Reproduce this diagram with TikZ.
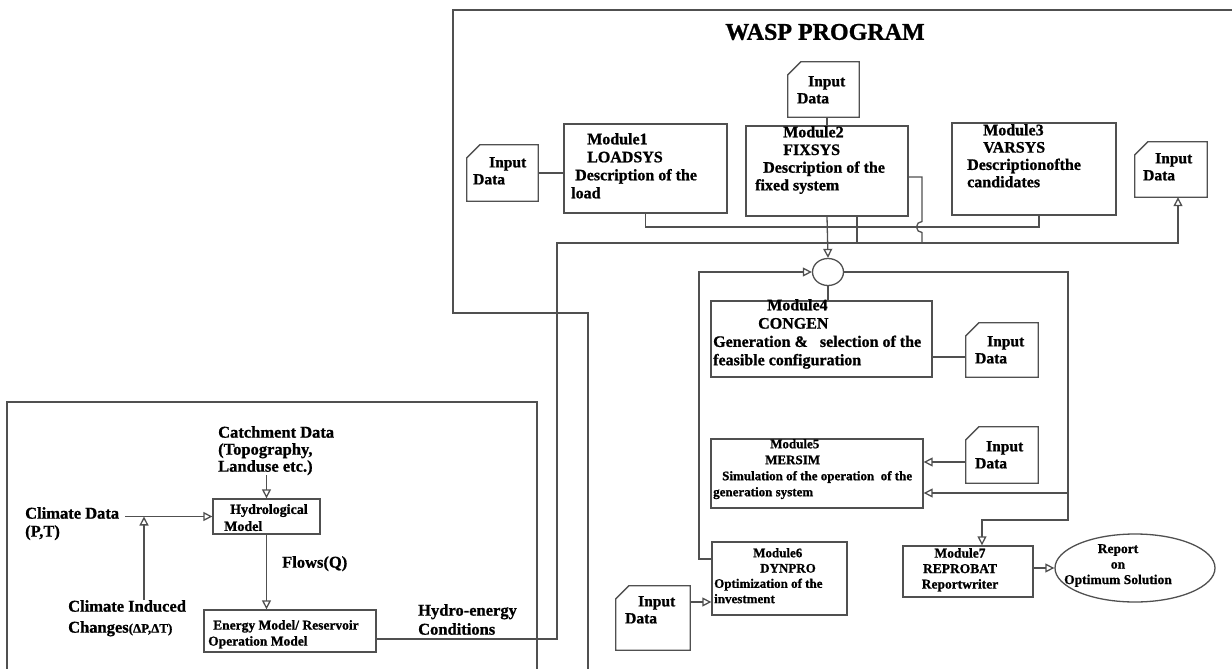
\documentclass[tikz,border=0pt]{standalone}
\usepackage{fontspec}
\setmainfont{Liberation Serif}[BoldFeatures={FakeBold=1}]
\usetikzlibrary{arrows.meta,shapes.geometric}
\definecolor{lc}{HTML}{505050}
\newcommand\docout[1]{\draw[ln] (#1.south west) -- ([yshift=-13pt]#1.north west) -- ([xshift=13pt]#1.north west) -- (#1.north east) -- (#1.south east) -- cycle;}
\begin{document}
\begin{tikzpicture}[x=1pt,y=-1pt,
  ln/.style={draw=lc, line width=1.3pt},
  arr/.style={ln, -{Triangle[open,length=9pt,width=9pt]}},
  box/.style={draw=lc, line width=1.3pt, rectangle, inner sep=0pt},
  docn/.style={rectangle, inner sep=0pt},
  txt/.style={inner sep=0pt, anchor=north west, align=left, text=black},
  fA/.style={font=\fontsize{16}{18}\selectfont\bfseries},
  fIn/.style={font=\fontsize{15.5}{17}\selectfont\bfseries},
  fS/.style={font=\fontsize{13}{16}\selectfont\bfseries},
  fL/.style={font=\fontsize{16.5}{18}\selectfont\bfseries}]
\useasboundingbox (0,0) rectangle (1232,669);
% frames
\draw[ln] (1232,10) -- (453,10) -- (453,313) -- (588,313) -- (588,669);
\draw[ln] (7,669) -- (7,402) -- (537,402) -- (537,669);
\node[font=\fontsize{24}{26}\selectfont\bfseries] (title) at (825,32) {WASP PROGRAM};
% modules
\node[box, minimum width=163pt, minimum height=89pt] (m1) at (645.5,168.5) {};
\node[box, minimum width=162pt, minimum height=90pt] (m2) at (827,171) {};
\node[box, minimum width=164pt, minimum height=92pt] (m3) at (1034,169) {};
\node[box, minimum width=221pt, minimum height=76pt] (m4) at (821.5,339) {};
\node[box, minimum width=212pt, minimum height=69pt] (m5) at (817,473.5) {};
\node[box, minimum width=135pt, minimum height=73pt] (m6) at (779.5,578.5) {};
\node[box, minimum width=130pt, minimum height=51pt] (m7) at (968,571.5) {};
\node[draw=lc, line width=1.3pt, ellipse, inner sep=0pt, minimum width=160pt, minimum height=68pt] (rep) at (1135,568) {};
\node[draw=lc, line width=1.3pt, ellipse, inner sep=0pt, minimum width=31pt, minimum height=27pt] (circ) at (828,272) {};
% module texts
\node[txt, fA] (m1t) at (571,133) {\hspace*{16pt}Module1\\\hspace*{16pt}LOADSYS\\\hspace*{4pt}Description of the\\load};
\node[txt, font=\fontsize{16}{17.7}\selectfont\bfseries] (m2t) at (755,126) {\hspace*{28pt}Module2\\\hspace*{28pt}FIXSYS\\\hspace*{8pt}Description of the\\fixed system};
\node[txt, font=\fontsize{16}{17.3}\selectfont\bfseries] (m3t) at (967,124) {\hspace*{16pt}Module3\\\hspace*{16pt}VARSYS\\Descriptionofthe\\candidates};
\node[txt, font=\fontsize{16}{18.3}\selectfont\bfseries] (m4t) at (713,299) {\hspace*{54pt}Module4\\\hspace*{45pt}CONGEN\\Generation \&\ \ \ selection of the\\feasible configuration};
\node[txt, fS] (m5t) at (713,439) {\hspace*{57pt}Module5\\\hspace*{52pt}MERSIM\\\hspace*{9pt}Simulation of the operation\ \ of the\\generation system};
\node[txt, font=\fontsize{13}{15.3}\selectfont\bfseries] (m6t) at (714,548) {\hspace*{39pt}Module6\\\hspace*{46pt}DYNPRO\\Optimization of the\\investment};
\node[txt, anchor=north, align=center, font=\fontsize{13.5}{15.5}\selectfont\bfseries] (m7t) at (960,548) {Module7\\REPROBAT\\Reportwriter};
\node[txt, anchor=north, align=center, font=\fontsize{13.5}{15.5}\selectfont\bfseries] (rept) at (1118,544) {Report\\on\\Optimum Solution};
% input data
\node[docn, minimum width=71pt, minimum height=56pt] (in1) at (502.5,173) {};
\node[docn, minimum width=71pt, minimum height=55pt] (in2) at (823.5,89.5) {};
\node[docn, minimum width=72pt, minimum height=55pt] (inR) at (1171,169.5) {};
\node[docn, minimum width=72pt, minimum height=54pt] (in4) at (1002,350) {};
\node[docn, minimum width=72pt, minimum height=56pt] (in5) at (1002,455) {};
\node[docn, minimum width=74pt, minimum height=64pt] (in6) at (653,618) {};
\docout{in1}\docout{in2}\docout{inR}\docout{in4}\docout{in5}\docout{in6}
\node[txt, fIn] (in1t) at (473,157) {\hspace*{16pt}Input\\Data};
\node[txt, fIn] (in2t) at (797,76) {\hspace*{11pt}Input\\Data};
\node[txt, fIn] (inRt) at (1143,153) {\hspace*{12pt}Input\\Data};
\node[txt, fIn] (in4t) at (975,336) {\hspace*{12pt}Input\\Data};
\node[txt, fIn] (in5t) at (975,441) {\hspace*{11pt}Input\\Data};
\node[txt, fIn] (in6t) at (625,596) {\hspace*{13pt}Input\\Data};
% WASP connectors
\coordinate (b1) at (1039,227);
\coordinate (h1) at (922,177);
\coordinate (b2a) at (557,243);
\coordinate (b2b) at (1178,243);
\coordinate (l6) at (699,559);
\coordinate (rc) at (1068,272);
\coordinate (rb) at (1068,520);
\coordinate (m7in) at (982,520);
\coordinate (r5) at (1068,493);
\draw[ln] (in1.east) -- (in1.east -| m1.west);
\draw[ln] (in2.south -| m2.north) -- (m2.north);
\draw[ln] (m1.south) |- (b1) -- (b1 |- m3.south);
\draw[ln] (m2.east |- h1) -- (h1) -- ++(0,44.5) arc[start angle=90, end angle=270, radius=5.5pt] -- (h1 |- b2a);
\draw[ln] ([xshift=30pt]m2.south) -- ([xshift=30pt]m2.south |- b2a);
\draw[arr] (m2.south) -- (circ.north);
\draw[ln] (circ.south) -- (circ.south |- m4.north);
\draw[arr] ([yshift=19.5pt]m6.west) -- (l6) -- (l6 |- circ.west) -- (circ.west);
\draw[arr] (circ.east) -- (rc) -- (rb) -- (m7in) -- (m7in |- m7.north);
\draw[arr] (r5) -- (r5 -| m5.east);
\draw[ln] ([yshift=-7pt]in4.west) -- ([yshift=-7pt]in4.west -| m4.east);
\draw[arr] ([yshift=-7pt]in5.west) -- ([yshift=-7pt]in5.west -| m5.east);
\draw[arr] ([yshift=16pt]in6.east) -- ([yshift=16pt]in6.east -| m6.west);
\draw[arr] (m7.east |- rep.west) -- (rep.west);
% hydro part
\node[box, minimum width=107pt, minimum height=35pt] (hyd) at (266.5,516.5) {};
\node[box, minimum width=172pt, minimum height=42pt] (en) at (290,631) {};
\node[txt, font=\fontsize{14}{17}\selectfont\bfseries] (hydt) at (224,504) {\hspace*{6pt}Hydrological\\Model};
\node[txt, font=\fontsize{13.5}{16}\selectfont\bfseries] (ent) at (208,620) {\hspace*{5pt}Energy Model/ Reservoir\\Operation Model};
\node[txt, font=\fontsize{16.5}{17}\selectfont\bfseries] (catch) at (218,426) {Catchment Data\\(Topography,\\Landuse etc.)};
\node[txt, fL] (clim) at (25,507) {Climate Data\\(P,T)};
\node[txt, font=\fontsize{16.5}{21}\selectfont\bfseries] (ind) at (68,600) {Climate Induced\\Changes{\fontsize{13}{15}\selectfont(ΔP,ΔT)}};
\node[txt, fL] (flows) at (282,556) {Flows(Q)};
\node[txt, font=\fontsize{16.5}{19}\selectfont\bfseries] (hec) at (418,604) {Hydro-energy\\Conditions};
\coordinate (cj) at (144,516.5);
\draw[arr] (hyd.north |- catch.south) -- (hyd.north);
\draw[arr] ([xshift=6pt]clim.east |- hyd.west) -- (hyd.west);
\draw[arr] (cj |- ind.north) -- (cj);
\draw[arr] (hyd.south) -- (hyd.south |- en.north);
\draw[arr] ([yshift=-8pt]en.east) -- ([yshift=-8pt]en.east -| b2a) -- (b2a) -- (b2b) -- (b2b |- inR.south);
\end{tikzpicture}
\end{document}
